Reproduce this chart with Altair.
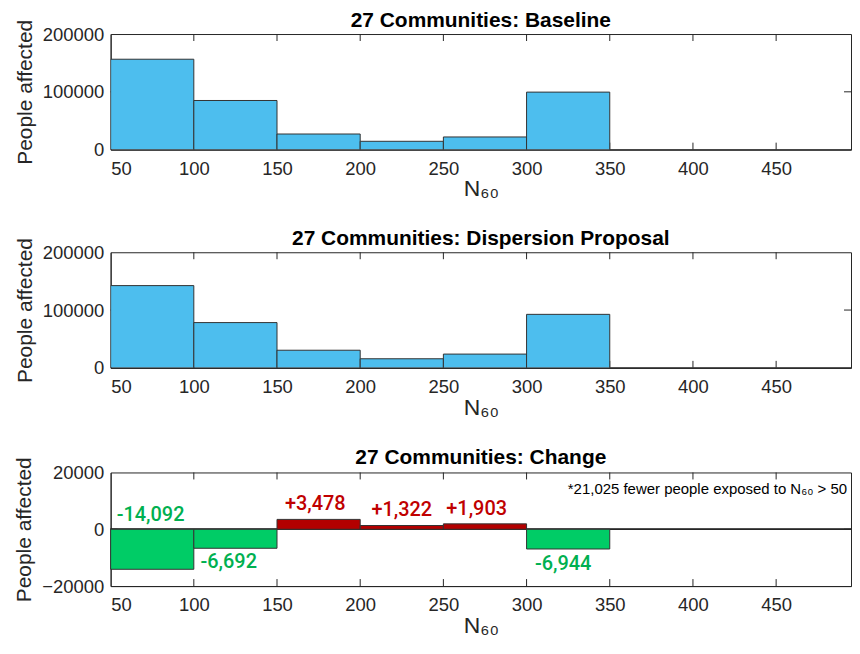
import altair as alt
import pandas as pd

# ---- data ----
bin_start = [50, 100, 150, 200, 250, 300, 350, 400, 450]
bin_end = [100, 150, 200, 250, 300, 350, 400, 450, 500]
baseline = [156400, 85000, 27000, 14400, 21900, 99500, 0, 0, 0]
dispersion = [142308, 78308, 30478, 15722, 23803, 92556, 0, 0, 0]
change = [-14092, -6692, 3478, 1322, 1903, -6944]
x_ticks = [50, 100, 150, 200, 250, 300, 350, 400, 450]
# annotation anchors for the change labels (data units)
label_x = [74, 121, 173, 225, 270, 322]
label_y = [4900, -11470, 8780, 6670, 7270, -12290]
footnote = "*21,025 fewer people exposed to N\u2086\u2080 > 50"

W = 743
FONT = "Liberation Sans"
AX = "#262626"
BLUE = "#4DBEEE"
GREEN = "#00CC66"
RED = "#B30000"
GREEN_T = "#00B050"
RED_T = "#C00000"

xscale = alt.Scale(domain=[50, 495], nice=False, zero=False)
xaxis = alt.Axis(values=x_ticks, title="N\u2086\u2080", format="d")


def ttl(text, dy):
    return alt.TitleParams(text=text, dy=dy)


def tick_layers(y_mid, h, yscale):
    tdf = pd.DataFrame({"v": x_ticks[1:]})
    top = alt.Chart(tdf).mark_rule(color=AX, strokeWidth=1).encode(
        x=alt.X("v:Q", scale=xscale, axis=xaxis), y=alt.value(0), y2=alt.value(7))
    bot = alt.Chart(tdf).mark_rule(color=AX, strokeWidth=1).encode(
        x=alt.X("v:Q", scale=xscale), y=alt.value(h), y2=alt.value(h - 7))
    ydf = pd.DataFrame({"v": [y_mid]})
    left = alt.Chart(ydf).mark_rule(color=AX, strokeWidth=1).encode(
        y=alt.Y("v:Q", scale=yscale), x=alt.value(0), x2=alt.value(7))
    right = alt.Chart(ydf).mark_rule(color=AX, strokeWidth=1).encode(
        y=alt.Y("v:Q", scale=yscale), x=alt.value(W), x2=alt.value(W - 7))
    return [top, bot, left, right]


def hist_panel(values, title, h):
    df = pd.DataFrame({"start": bin_start, "end": bin_end, "value": values})
    yscale = alt.Scale(domain=[0, 200000], nice=False)
    yaxis = alt.Axis(values=[0, 100000, 200000], format="d", title="People affected")
    bars = alt.Chart(df).mark_rect(fill=BLUE, stroke="#333333", strokeWidth=1,
                                   clip=True).encode(
        x=alt.X("start:Q", scale=xscale, axis=xaxis),
        x2="end:Q",
        y=alt.Y("value:Q", scale=yscale, axis=yaxis),
        y2=alt.datum(0),
    )
    return alt.layer(*tick_layers(100000, h, yscale), bars).properties(
        width=W, height=h, title=ttl(title, 16))


p1 = hist_panel(baseline, "27 Communities: Baseline", 116)
p2 = hist_panel(dispersion, "27 Communities: Dispersion Proposal", 116)

# change panel
H3 = 114
cdf = pd.DataFrame({"start": bin_start[:6], "end": bin_end[:6], "change": change})
ldf = pd.DataFrame({
    "lx": label_x, "ly": label_y,
    "txt": [f"{v:+,}" for v in change],
    "neg": [v < 0 for v in change],
})
yscale3 = alt.Scale(domain=[-20000, 20000], nice=False)
yaxis3 = alt.Axis(values=[-20000, 0, 20000], format="d", title="People affected")

bars3 = alt.Chart(cdf).mark_rect(stroke="#333333", strokeWidth=1).encode(
    x=alt.X("start:Q", scale=xscale, axis=xaxis),
    x2="end:Q",
    y=alt.Y("change:Q", scale=yscale3, axis=yaxis3),
    y2=alt.datum(0),
    fill=alt.condition("datum.change < 0", alt.value(GREEN), alt.value(RED)),
)
zero = alt.Chart(cdf).mark_rule(color=AX, strokeWidth=1).encode(
    y=alt.datum(0), x=alt.value(0), x2=alt.value(W))
labels = alt.Chart(ldf).mark_text(font="Roboto", fontSize=20, fontWeight=500,
                                  align="center", baseline="middle").encode(
    x=alt.X("lx:Q", scale=xscale),
    y=alt.Y("ly:Q", scale=yscale3),
    text="txt:N",
    color=alt.condition("datum.neg", alt.value(GREEN_T), alt.value(RED_T)),
)
note = alt.Chart(pd.DataFrame({"t": [footnote]})).mark_text(
    font=FONT, fontSize=15, align="right", baseline="middle", color="#000000").encode(
    x=alt.value(W - 4), y=alt.value(17), text="t:N")

p3 = alt.layer(*tick_layers(0, H3, yscale3), zero, bars3, labels, note).properties(
    width=W, height=H3, title=ttl("27 Communities: Change", 15))

chart = alt.vconcat(p1, p2, p3, spacing=26).properties(
    padding={"left": 5, "top": 0, "right": 0, "bottom": 0}
).configure_view(
    stroke=AX, strokeWidth=1
).configure_axis(
    grid=False, ticks=False, domainColor=AX, labelColor=AX, titleColor=AX,
    labelFont=FONT, titleFont=FONT, labelFontSize=18.5, labelPadding=7,
    titleFontWeight="normal",
).configure_axisY(
    titleFontSize=21, titlePadding=7,
).configure_axisX(
    titleFontSize=23, titlePadding=0, labelPadding=10,
).configure_title(
    font=FONT, fontSize=21, fontWeight="bold", color="#000000", anchor="middle", offset=0,
)

chart.save("out.html", embed_options={"renderer": "svg", "actions": False})
